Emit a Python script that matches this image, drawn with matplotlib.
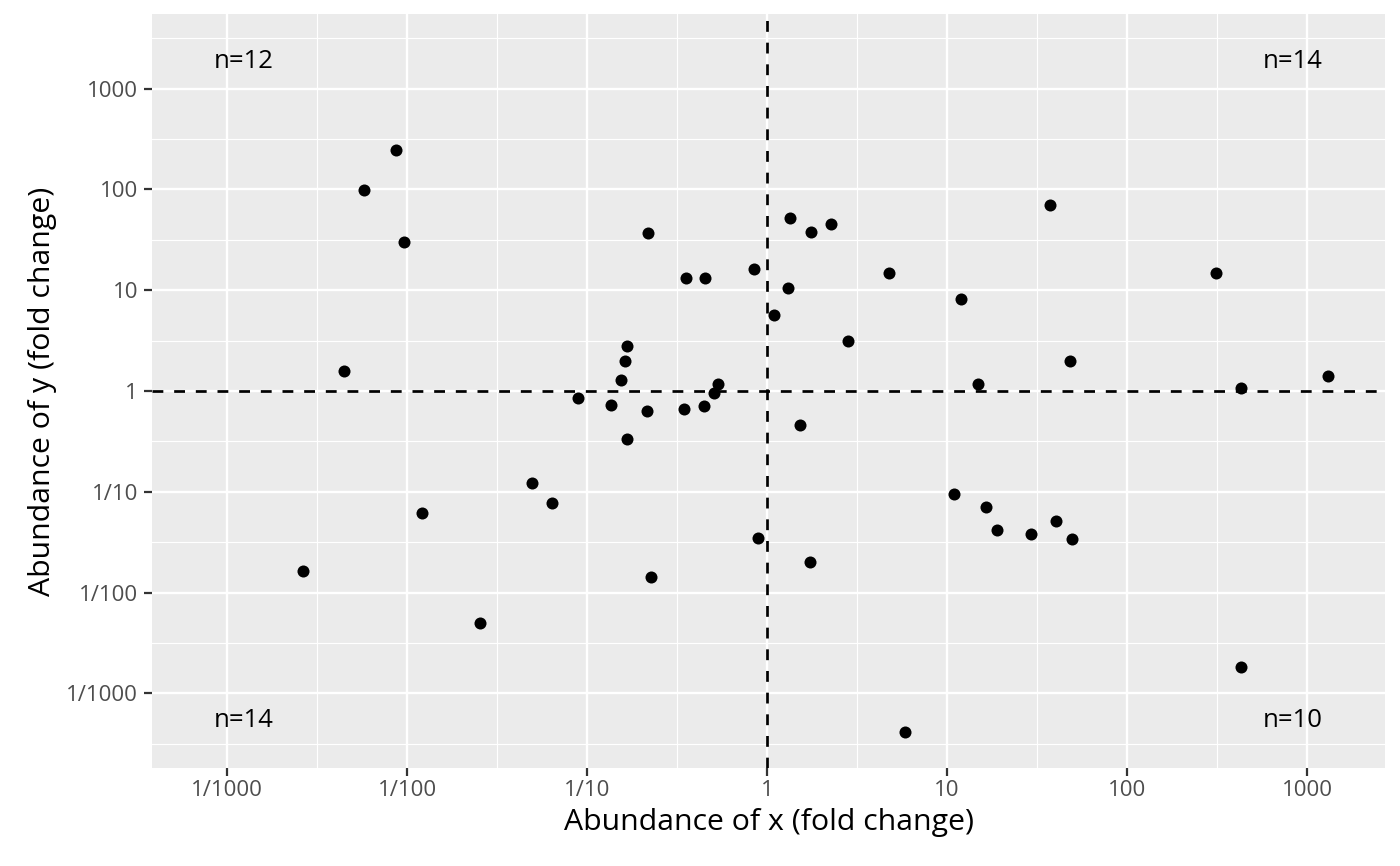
import matplotlib
matplotlib.use("Agg")
import matplotlib.pyplot as plt
import numpy as np

# log10 values
x_log = [-2.578, -2.35, -2.239, -2.061, -2.017, -1.917, -1.594, -1.306, -1.194, -1.05,
         -0.867, -0.811, -0.789, -0.778, -0.778, -0.667, -0.661, -0.644, -0.461, -0.45,
         -0.35, -0.344, -0.294, -0.272, -0.072, -0.05, 0.039, 0.117, 0.128, 0.183,
         0.239, 0.244, 0.356, 0.45, 0.678, 0.767, 1.039, 1.078, 1.172, 1.217,
         1.278, 1.467, 1.572, 1.606, 1.683, 1.694, 2.494, 2.633, 2.633, 3.117]
y_log = [-1.786, 0.198, 1.994, 2.391, 1.478, -1.210, -2.302, -0.913, -1.111, -0.069,
         -0.139, 0.109, 0.298, 0.446, -0.476, -0.198, 1.567, -1.845, -0.179, 1.121,
         -0.149, 1.121, -0.020, 0.069, 1.210, -1.458, 0.754, 1.022, 1.716, -0.337,
         -1.696, 1.577, 1.657, 0.496, 1.171, -3.383, -1.022, 0.913, 0.069, -1.151,
         -1.379, -1.419, 1.845, -1.290, 0.298, -1.468, 1.171, 0.030, -2.738, 0.149]
x_vals = [10 ** v for v in x_log]
y_vals = [10 ** v for v in y_log]

tick_vals = [1e-3, 1e-2, 1e-1, 1, 10, 100, 1000]
tick_labels = ["1/1000", "1/100", "1/10", "1", "10", "100", "1000"]

labels = ["n=12", "n=14", "n=14", "n=10"]
label_x = [10 ** -2.91, 10 ** 2.92, 10 ** -2.91, 10 ** 2.92]
label_y = [10 ** 3.264, 10 ** 3.264, 10 ** -3.264, 10 ** -3.264]

plt.rcParams['font.family'] = ['Open Sans', 'DejaVu Sans']

W, H = 1400, 866
fig = plt.figure(figsize=(W / 100, H / 100), dpi=100)
ax = fig.add_axes([152 / W, 1 - 768 / H, (1385 - 152) / W, (768 - 14) / H])
ax.set_facecolor("#EBEBEB")
ax.set_xscale("log")
ax.set_yscale("log")

minor = [10 ** (k + 0.5) for k in range(-4, 4)]
ax.set_xticks(tick_vals)
ax.set_xticklabels(tick_labels)
ax.set_yticks(tick_vals)
ax.set_yticklabels(tick_labels)
ax.set_xticks(minor, minor=True)
ax.set_yticks(minor, minor=True)
ax.set_xlim(10 ** -3.417, 10 ** 3.433)
ax.set_ylim(10 ** -3.74, 10 ** 3.74)
ax.tick_params(which="minor", length=0, labelbottom=False, labelleft=False)
ax.tick_params(which="major", length=5.5, width=1.6, color="#333333",
               labelcolor="#4D4D4D", labelsize=16, pad=3)
ax.tick_params(axis="y", which="major", pad=4.5)
ax.grid(which="major", color="white", linewidth=1.7)
ax.grid(which="minor", color="white", linewidth=0.85)
ax.set_axisbelow(True)
for s in ax.spines.values():
    s.set_visible(False)

ax.axhline(1, color="black", linestyle=(0, (4, 4)), linewidth=1.95)
ax.axvline(1, color="black", linestyle=(0, (4, 4)), linewidth=1.95)

ax.scatter(x_vals, y_vals, s=75, color="black", zorder=3, linewidths=0)

for t, lx, ly in zip(labels, label_x, label_y):
    ax.text(lx, ly, t, ha="center", va="center", fontsize=18.5, color="black")

ax.set_xlabel("Abundance of x (fold change)", fontsize=21.8, labelpad=5)
ax.set_ylabel("Abundance of y (fold change)", fontsize=21.8, labelpad=7)

fig.savefig("out.png", dpi=100)
